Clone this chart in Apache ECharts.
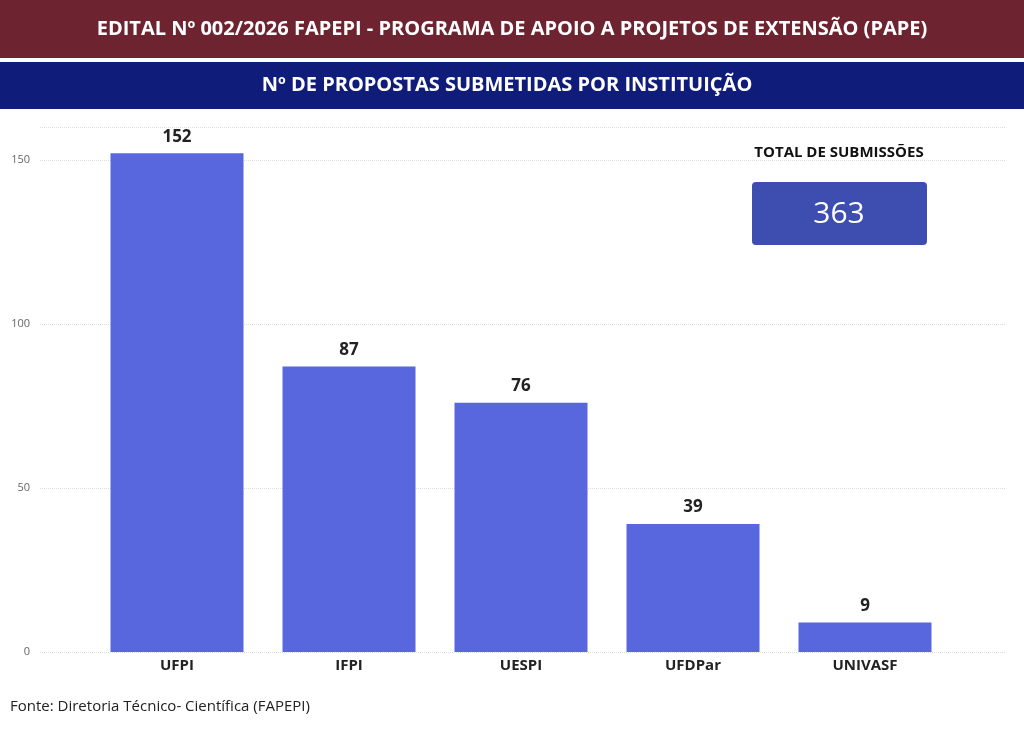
<!DOCTYPE html>
<html><head><meta charset="utf-8">
<script src="https://cdn.jsdelivr.net/npm/echarts@6/dist/echarts.min.js"></script>
<style>html,body{margin:0;padding:0;background:#fff}#chart{width:1024px;height:729px}</style>
</head><body><div id="chart"></div>
<script>
const categories = ['UFPI', 'IFPI', 'UESPI', 'UFDPar', 'UNIVASF'];
const propostas = [152, 87, 76, 39, 9];
const yTicks = [0, 50, 100, 150];
const total = 363;

const chart = echarts.init(document.getElementById('chart'));
const font = '"Open Sans", "Noto Sans", sans-serif';

chart.setOption({
  animation: false,
  textStyle: { fontFamily: font },
  grid: [
    { left: 91, right: 73, top: 127, bottom: 77 },
    { left: 40, right: 18, top: 127, bottom: 77 }
  ],
  xAxis: [
    {
      type: 'category', data: categories, gridIndex: 0,
      axisLine: { show: false }, axisTick: { show: false },
      axisLabel: { fontSize: 15, fontWeight: 'bold', color: '#222', margin: 6, fontFamily: font }
    },
    { type: 'value', gridIndex: 1, show: false }
  ],
  yAxis: [
    { type: 'value', gridIndex: 0, min: 0, max: 160, show: false },
    {
      type: 'value', gridIndex: 1, min: 0, max: 160, interval: 50,
      axisLine: { show: false }, axisTick: { show: false },
      axisLabel: {
        color: '#666', fontSize: 11, margin: 10,
        formatter: v => yTicks.includes(v) ? v : ''
      },
      splitLine: { lineStyle: { color: '#ddd', type: 'dotted' } }
    }
  ],
  series: [{
    type: 'bar', data: propostas, barWidth: 133,
    itemStyle: { color: '#5867dd' },
    label: { show: true, position: 'top', fontSize: 17, fontWeight: 'bold', color: '#222', distance: 8, fontFamily: font }
  }],
  graphic: [
    { type: 'rect', shape: { x: 0, y: 0, width: 1024, height: 58 }, style: { fill: '#6d2330' } },
    { type: 'text', x: 512, y: 29, style: { text: 'EDITAL Nº 002/2026 FAPEPI - PROGRAMA DE APOIO A PROJETOS DE EXTENSÃO (PAPE)', fill: '#fff', font: 'bold 20px ' + font, textAlign: 'center', textVerticalAlign: 'middle' } },
    { type: 'rect', shape: { x: 0, y: 62, width: 1024, height: 47 }, style: { fill: '#101c7a' } },
    { type: 'text', x: 507, y: 85, style: { text: 'Nº DE PROPOSTAS SUBMETIDAS POR INSTITUIÇÃO', fill: '#fff', font: 'bold 20px ' + font, textAlign: 'center', textVerticalAlign: 'middle' } },
    { type: 'text', x: 839, y: 153, style: { text: 'TOTAL DE SUBMISSÕES', fill: '#111', font: 'bold 15px ' + font, textAlign: 'center', textVerticalAlign: 'middle' } },
    { type: 'rect', shape: { x: 752, y: 182, width: 175, height: 63, r: 4 }, style: { fill: '#3d4db0' } },
    { type: 'text', x: 839, y: 214, style: { text: String(total), fill: '#fff', font: '30px ' + font, textAlign: 'center', textVerticalAlign: 'middle' } },
    { type: 'text', x: 10, y: 707, style: { text: 'Fonte: Diretoria Técnico- Científica (FAPEPI)', fill: '#222', font: '15px ' + font, textVerticalAlign: 'middle' } }
  ]
});
</script></body></html>
